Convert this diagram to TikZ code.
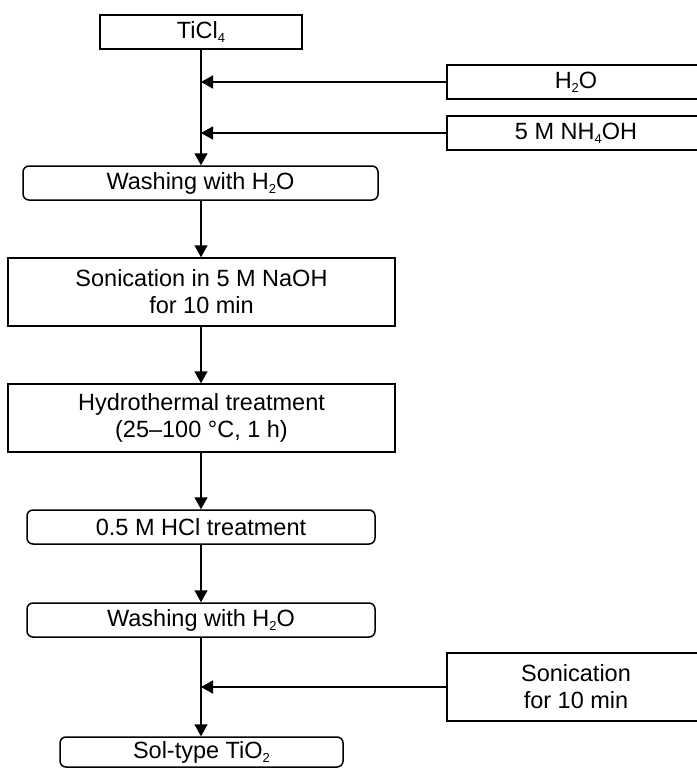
\documentclass[tikz,border=0pt]{standalone}
\usepackage{fontspec}
\setmainfont{Liberation Sans}
\usetikzlibrary{arrows.meta}
\newcommand\sbs[1]{\raisebox{-0.35ex}{\fontsize{13}{13}\selectfont #1}}
\begin{document}
\begin{tikzpicture}[x=1pt,y=-1pt,
  every node/.style={inner sep=0pt, align=center, font=\fontsize{23.5}{27}\selectfont},
  box/.style={draw, line width=1.5pt},
  rbox/.style={box, rounded corners=6pt},
  flow/.style={line width=1.5pt, -{Triangle[length=12pt,width=13pt]}}]
\useasboundingbox (0,0) rectangle (696,768);
\node[box, minimum width=202, minimum height=34] (ticl) at (201,32) {TiCl\sbs{4}};
\node[box, minimum width=258, minimum height=34] (h2o) at (576,82) {H\sbs{2}O};
\node[box, minimum width=258, minimum height=34] (nh4) at (576,133) {5 M NH\sbs{4}OH};
\node[rbox, minimum width=355, minimum height=34] (wash1) at (200.5,183) {Washing with H\sbs{2}O};
\node[box, minimum width=387, minimum height=68] (son) at (201.5,292) {Sonication in 5 M NaOH\\for 10 min};
\node[box, minimum width=387, minimum height=68] (hyd) at (201.5,418) {Hydrothermal treatment\\(25–100 °C, 1 h)};
\node[rbox, minimum width=348, minimum height=34] (hcl) at (201,527) {0.5 M HCl treatment};
\node[rbox, minimum width=348, minimum height=34] (wash2) at (201,620) {Washing with H\sbs{2}O};
\node[box, minimum width=258, minimum height=68] (sonr) at (576,687) {Sonication\\for 10 min};
\node[rbox, minimum width=283, minimum height=30] (sol) at (201.5,752) {Sol-type TiO\sbs{2}};
\coordinate (c1) at (201,82);
\coordinate (c2) at (201,133);
\coordinate (c3) at (201,687);
\draw[flow] (ticl.south) -- (ticl.south |- wash1.north);
\draw[flow] (h2o.west) -- (c1);
\draw[flow] (nh4.west) -- (c2);
\draw[flow] (wash1.south -| ticl.south) -- (ticl.south |- son.north);
\draw[flow] (son.south -| ticl.south) -- (ticl.south |- hyd.north);
\draw[flow] (hyd.south -| ticl.south) -- (ticl.south |- hcl.north);
\draw[flow] (hcl.south -| ticl.south) -- (ticl.south |- wash2.north);
\draw[flow] (wash2.south -| ticl.south) -- (ticl.south |- sol.north);
\draw[flow] (sonr.west) -- (c3);
\end{tikzpicture}
\end{document}
